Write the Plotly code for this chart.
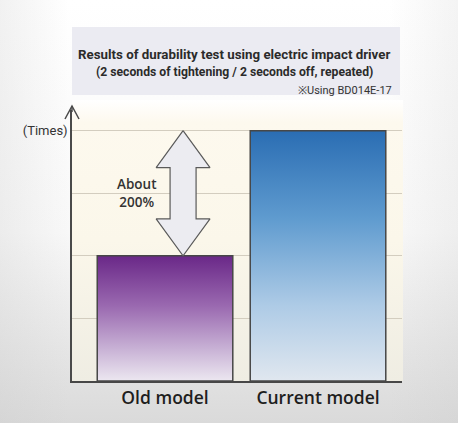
import base64
import plotly.graph_objects as go

# ---- data ----
categories = ["Old model", "Current model"]
values = [2, 4]            # relative durability (times), current ≈ 200% of old
grid_ticks = [1, 2, 3, 4]
tick_labels = ["", "", "", "(Times)"]
title_lines = [
    "Results of durability test using electric impact driver",
    "(2 seconds of tightening / 2 seconds off, repeated)",
    "※Using BD014E-17",
]
arrow_label = "About<br>200%"

W, H = 458, 423

def px(x):
    return x / W

def py(y):
    return 1 - y / H

bar_w = 0.886
bar_scales = [
    [[0, "#ece7f0"], [0.25, "#c9b3d6"], [0.6, "#9a69b0"], [1, "#6a2888"]],
    [[0, "#e0e7ef"], [0.3, "#aecbe6"], [0.65, "#5f9bcf"], [1, "#2a6db3"]],
]

fig = go.Figure()

for i, (cat, v) in enumerate(zip(categories, values)):
    fig.add_trace(go.Scatter(
        x=[i - bar_w / 2, i + bar_w / 2, i + bar_w / 2, i - bar_w / 2, i - bar_w / 2],
        y=[0, 0, v, v, 0],
        mode="lines", fill="toself",
        fillgradient=dict(type="vertical", colorscale=bar_scales[i]),
        line=dict(color="#474747", width=1.5),
        name=cat, hoverinfo="skip", showlegend=False,
    ))

# double-headed arrow between old and current values
lo, hi = values[0], values[1]
c = 0.118      # arrow centre offset (position)
hw, sw, hh = 0.176, 0.085, 0.59
ax = [c, c + hw, c + sw, c + sw, c + hw, c, c - hw, c - sw, c - sw, c - hw, c]
ay = [hi, hi - hh, hi - hh, lo + hh, lo + hh, lo, lo + hh, lo + hh, hi - hh, hi - hh, hi]
fig.add_trace(go.Scatter(
    x=ax, y=ay, mode="lines", fill="toself", fillcolor="#ececf1",
    line=dict(color="#5a5a5a", width=1.2), hoverinfo="skip", showlegend=False,
))

# background gradient (decorative) as inline SVG
svg = f'''<svg xmlns="http://www.w3.org/2000/svg" width="{W}" height="{H}" viewBox="0 0 {W} {H}" preserveAspectRatio="none">
<defs>
<linearGradient id="bg" x1="0" y1="0" x2="0" y2="1">
<stop offset="0" stop-color="#ffffff"/><stop offset="0.55" stop-color="#f8f8f8"/><stop offset="1" stop-color="#dadada"/>
</linearGradient>
<linearGradient id="side" x1="0" y1="0" x2="1" y2="0">
<stop offset="0" stop-color="#c8c8c8" stop-opacity="0.25"/><stop offset="0.15" stop-color="#c8c8c8" stop-opacity="0"/>
<stop offset="0.85" stop-color="#c8c8c8" stop-opacity="0"/><stop offset="1" stop-color="#c8c8c8" stop-opacity="0.2"/>
</linearGradient>
<linearGradient id="cream" x1="0" y1="0" x2="0" y2="1">
<stop offset="0" stop-color="#ffffff"/><stop offset="0.08" stop-color="#fdf9ee"/><stop offset="0.5" stop-color="#fbf7ea"/><stop offset="1" stop-color="#efede3"/>
</linearGradient>
</defs>
<rect x="0" y="0" width="{W}" height="{H}" fill="url(#bg)"/>
<rect x="0" y="0" width="{W}" height="{H}" fill="url(#side)"/>
<rect x="72" y="100" width="331" height="281" fill="url(#cream)"/>
</svg>'''
src = "data:image/svg+xml;base64," + base64.b64encode(svg.encode()).decode()

title_font = "Roboto, sans-serif"
annotations = [
    dict(text=title_lines[0], x=px(234), y=py(45), xref="paper", yref="paper",
         showarrow=False, font=dict(family=title_font, size=13.3, color="#2b2b2b", weight="bold")),
    dict(text=title_lines[1], x=px(234), y=py(63), xref="paper", yref="paper",
         showarrow=False, font=dict(family=title_font, size=12.2, color="#2b2b2b", weight="bold")),
    dict(text=title_lines[2], x=px(394), y=py(82), xref="paper", yref="paper", xanchor="right",
         showarrow=False, font=dict(family=title_font, size=11, color="#333333")),
    dict(text=arrow_label, x=-0.183, y=3.01, xref="x", yref="y", showarrow=False,
         font=dict(family="Open Sans, sans-serif", size=13.5, color="#333333", weight=600)),
]

shapes = [
    dict(type="rect", xref="paper", yref="paper", x0=px(72), x1=px(400), y0=py(95), y1=py(27),
         fillcolor="#ebebf2", line=dict(width=0), layer="below"),
    # open arrowhead at top of y axis
    dict(type="path", xref="paper", yref="paper", xsizemode="pixel", ysizemode="pixel",
         xanchor=px(72), yanchor=py(106), path="M -7,-13 L 0,0 L 7,-13",
         line=dict(color="#4a4a4a", width=1.5)),
    dict(type="line", xref="paper", yref="paper", x0=px(72), x1=px(72), y0=py(112), y1=py(106),
         line=dict(color="#4a4a4a", width=1.5)),
]

fig.update_layout(
    width=W, height=H,
    margin=dict(l=0, r=0, t=0, b=0),
    paper_bgcolor="rgba(0,0,0,0)", plot_bgcolor="rgba(0,0,0,0)",
    images=[dict(source=src, xref="paper", yref="paper", x=0, y=1, sizex=1, sizey=1,
                 sizing="stretch", xanchor="left", yanchor="top", layer="below")],
    annotations=annotations, shapes=shapes, showlegend=False,
    xaxis=dict(domain=[px(72), px(402)], range=[-0.608, 1.549], tickvals=[0, 1],
               ticktext=categories, showgrid=False, zeroline=False, showline=True,
               linecolor="#474747", linewidth=1.5, ticks="", fixedrange=True,
               tickfont=dict(family="Open Sans, sans-serif", size=17.5, color="#1e1e1e", weight=600)),
    yaxis=dict(domain=[py(381), py(110)], range=[0, 4.33], tickvals=grid_ticks,
               ticktext=tick_labels, showgrid=True, gridcolor="#d3cdbf", gridwidth=1,
               zeroline=False, showline=True, linecolor="#4a4a4a", linewidth=1.5,
               ticks="", fixedrange=True,
               tickfont=dict(family=title_font, size=13, color="#333333")),
)

fig.write_html("out.html", config={"displayModeBar": False},
               post_script="document.body.style.margin='0';")
